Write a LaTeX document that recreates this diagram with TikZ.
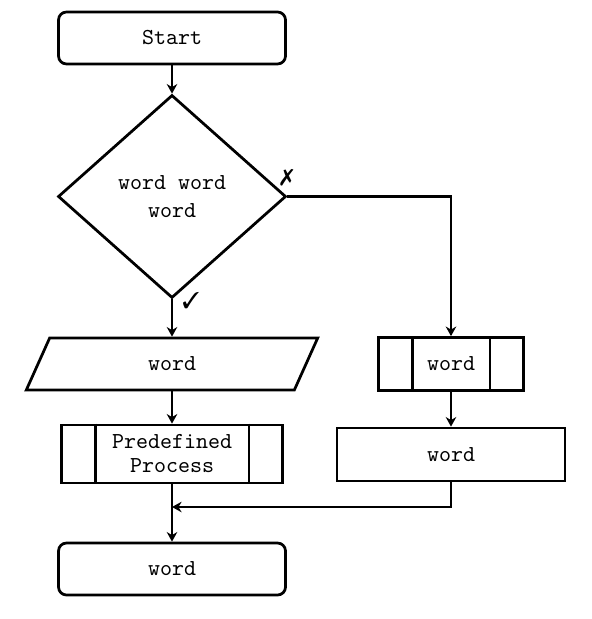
\documentclass[tikz,border=0pt]{standalone}
\usepackage{pifont}
\usetikzlibrary{shapes.geometric,arrows.meta}
\begin{document}
\begin{tikzpicture}[x=0.4375pt,y=-0.4375pt,font=\ttfamily,line width=1.2pt,
  term/.style={draw,rectangle,rounded corners=3.5pt,minimum width=227*0.4375pt,minimum height=52*0.4375pt,inner sep=0pt},
  decision/.style={draw,diamond,minimum width=228*0.4375pt,minimum height=203*0.4375pt,inner sep=0pt,align=center},
  io/.style={draw,trapezium,trapezium left angle=72,trapezium right angle=108,trapezium stretches=true,minimum width=292*0.4375pt,minimum height=52*0.4375pt,inner sep=0pt},
  predef/.style={draw,rectangle,minimum height=53*0.4375pt,inner sep=0pt,align=center},
  process/.style={draw,rectangle,minimum width=228*0.4375pt,minimum height=53*0.4375pt,inner sep=0pt},
  arr/.style={-{Stealth[length=4.2pt,width=4.6pt]}},
  ticklabel/.style={inner sep=0pt,font=\normalsize}]
\useasboundingbox (0,0) rectangle (591,619);
\node[term] (start) at (172,38) {Start};
\node[decision] (dec) at (172,196.5) {word word\\word};
\node[io] (in) at (172,364) {word};
\node[predef,minimum width=145*0.4375pt] (p2) at (451,364) {word};
\node[process] (r) at (451,454.5) {word};
\node[predef,minimum width=221*0.4375pt,minimum height=58*0.4375pt,font=\ttfamily\fontsize{10}{10.5}\selectfont] (p1) at (172,454) {Predefined\\Process};
\node[term] (end) at (172,569) {word};
\draw ([xshift=35*0.4375pt]p2.north west) -- ([xshift=35*0.4375pt]p2.south west);
\draw ([xshift=-35*0.4375pt]p2.north east) -- ([xshift=-35*0.4375pt]p2.south east);
\draw ([xshift=35*0.4375pt]p1.north west) -- ([xshift=35*0.4375pt]p1.south west);
\draw ([xshift=-35*0.4375pt]p1.north east) -- ([xshift=-35*0.4375pt]p1.south east);
\draw[arr] (start) -- (dec);
\draw[arr] (dec.south) -- (dec.south |- in.north);
\draw[arr] (dec.east) -| (p2.north);
\draw[arr] (in.south) -- (in.south |- p1.north);
\draw[arr] (p2) -- (r);
\draw[arr] (p1) -- (end);
\coordinate (m) at (172,507);
\draw[arr] (r.south) |- (m);
\node[ticklabel] (no) at (287,178) {\ding{55}};
\node[ticklabel] (yes) at (191,301) {\ding{51}};
\end{tikzpicture}
\end{document}
